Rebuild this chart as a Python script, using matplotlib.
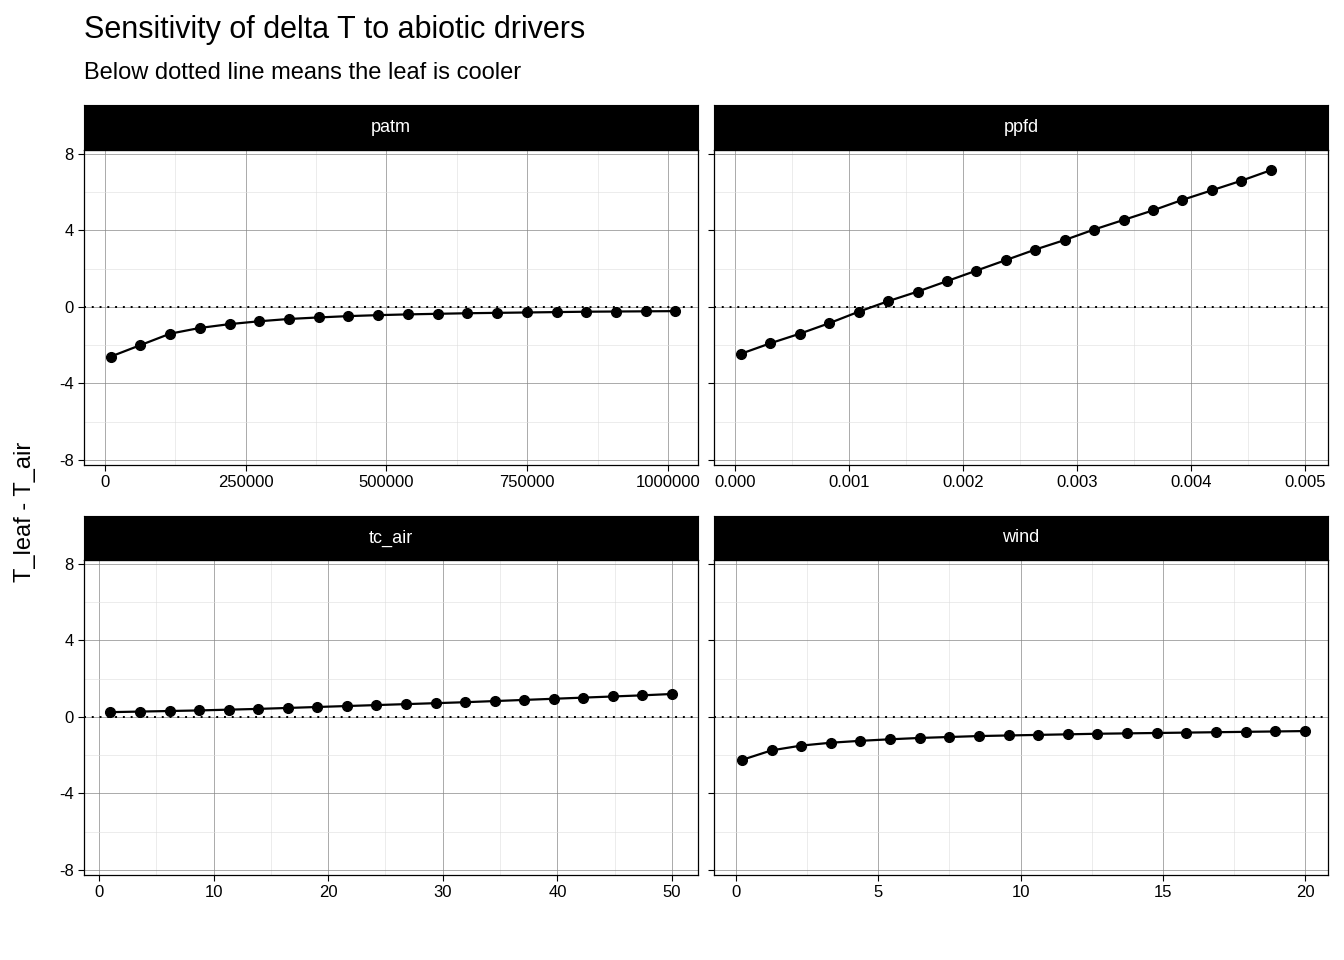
import numpy as np
import matplotlib
matplotlib.use("Agg")
import matplotlib.pyplot as plt
plt.rcParams['font.family'] = ['Liberation Sans', 'DejaVu Sans']

patm_x = [10000 + k*52800 for k in range(20)]
patm_y = [-2.6,-2.0,-1.4,-1.1,-0.9,-0.75,-0.63,-0.55,-0.48,-0.43,-0.39,-0.36,-0.33,-0.31,-0.29,-0.27,-0.25,-0.24,-0.23,-0.22]
ppfd_x = [0.000053 + k*0.000258 for k in range(19)]
ppfd_y = [-2.45,-1.9,-1.4,-0.85,-0.25,0.3,0.8,1.35,1.9,2.45,3.0,3.5,4.05,4.55,5.05,5.6,6.1,6.6,7.15]
tc_x = [1 + k*2.579 for k in range(20)]
tc_y = [0.25,0.28,0.31,0.34,0.38,0.42,0.47,0.52,0.57,0.62,0.67,0.72,0.77,0.83,0.89,0.95,1.01,1.07,1.13,1.2]
wind_x = [0.2 + k*1.042 for k in range(20)]
wind_y = [-2.25,-1.75,-1.5,-1.35,-1.25,-1.17,-1.1,-1.05,-1.0,-0.97,-0.94,-0.91,-0.88,-0.86,-0.84,-0.82,-0.8,-0.78,-0.76,-0.74]

panels = [
    ("patm", patm_x, patm_y, (-37300, 1053300), [0,250000,500000,750000,1000000], ["0","250000","500000","750000","1000000"]),
    ("ppfd", ppfd_x, ppfd_y, (-0.000184, 0.0052), [0,0.001,0.002,0.003,0.004,0.005], ["0.000","0.001","0.002","0.003","0.004","0.005"]),
    ("tc_air", tc_x, tc_y, (-1.31, 52.27), [0,10,20,30,40,50], ["0","10","20","30","40","50"]),
    ("wind", wind_x, wind_y, (-0.78, 20.81), [0,5,10,15,20], ["0","5","10","15","20"]),
]

W, H = 1344, 960
fig = plt.figure(figsize=(W/100, H/100), dpi=100)
boxes = [(84,150,698,465),(714,150,1328,465),(84,560,698,875),(714,560,1328,875)]
strips = [104, 104, 515, 515]
yt = [-8,-4,0,4,8]
for (name,x,y,xl,xt,xtl),(l,t,r,b),st in zip(panels,boxes,strips):
    ax = fig.add_axes([l/W, 1-b/H, (r-l)/W, (b-t)/H])
    ax.set_xlim(*xl); ax.set_ylim(-8.27, 8.21)
    ax.set_xticks(xt); ax.set_xticklabels(xtl)
    ax.set_yticks(yt)
    if l < 100:
        ax.set_yticklabels([str(v) for v in yt])
    else:
        ax.set_yticklabels([])
        ax.tick_params(axis='y', length=0)
    mx = [(xt[i]+xt[i+1])/2 for i in range(len(xt)-1)]
    if xl[0] < xt[0]-(xt[1]-xt[0])/2: mx = [xt[0]-(xt[1]-xt[0])/2]+mx
    if xl[1] > xt[-1]+(xt[1]-xt[0])/2: mx = mx+[xt[-1]+(xt[1]-xt[0])/2]
    ax.set_xticks(mx, minor=True); ax.set_yticks([-6,-2,2,6], minor=True)
    ax.tick_params(which='minor', length=0)
    ax.grid(True, which='major', color='#888888', lw=0.5)
    ax.grid(True, which='minor', color='#dddddd', lw=0.4)
    ax.set_axisbelow(True)
    for s in ax.spines.values(): s.set_color('black'); s.set_linewidth(0.9)
    ax.tick_params(labelsize=12, colors='black', length=4)
    ax.axhline(0, color='black', ls=(0,(1,3)), lw=1.4)
    ax.plot(x, y, color='black', lw=1.6, marker='o', ms=7)
    sax = fig.add_axes([l/W, 1-st/H-(t-st)/H, (r-l)/W, (t-st-1)/H])
    sax.set_facecolor('black'); sax.set_xticks([]); sax.set_yticks([])
    sax.text(0.5, 0.5, name, color='white', ha='center', va='center', fontsize=13, transform=sax.transAxes)

fig.text(84/W, 1-30/H, "Sensitivity of delta T to abiotic drivers", fontsize=22, va='center')
fig.text(84/W, 1-73/H, "Below dotted line means the leaf is cooler", fontsize=17, va='center')
fig.text(25/W, 1-512/H, "T_leaf - T_air", fontsize=17, rotation=90, va='center', ha='center')
fig.savefig("out.png", dpi=100)
